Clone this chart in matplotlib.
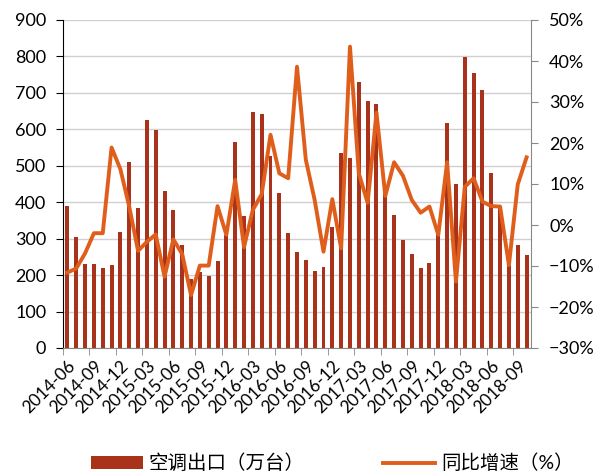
import matplotlib.pyplot as plt
import numpy as np
from matplotlib.ticker import PercentFormatter

plt.rcParams['font.family'] = ['Lato', 'Noto Sans CJK SC', 'DejaVu Sans']

# 月份：2014-06 至 2018-10
meses = []
anio, mes = 2014, 6
for _ in range(53):
    meses.append(f"{anio}-{mes:02d}")
    mes += 1
    if mes > 12:
        mes = 1
        anio += 1

# 空调出口（万台）
exportacion = [390, 305, 230, 231, 220, 228, 318, 510, 383, 626,
               597, 431, 379, 283, 190, 208, 198, 238, 310, 566,
               362, 648, 643, 526, 426, 316, 263, 242, 212, 223,
               332, 535, 521, 730, 678, 670, 425, 365, 295, 257,
               219, 233, 318, 617, 450, 798, 755, 708, 479, 390,
               228, 283, 254]

# 同比增速（%）
crecimiento = [-11.6, -10.6, -6.9, -2.0, -2.0, 18.9, 13.6, 4.5, -6.3, -4.1,
               -2.3, -12.6, -3.5, -7.1, -17.1, -9.9, -9.9, 4.6, -2.4, 11.0,
               -5.4, 3.7, 7.5, 22.0, 12.6, 11.4, 38.6, 15.9, 6.1, -6.5,
               6.3, -5.7, 43.5, 12.6, 5.4, 27.4, 7.1, 15.3, 12.0, 6.1,
               3.0, 4.5, -2.4, 15.3, -13.8, 9.3, 11.4, 5.7, 4.6, 4.5,
               -9.8, 9.9, 16.5]

color_barra = '#A8321A'
color_linea = '#E05E1C'

fig = plt.figure(figsize=(6.06, 4.74), dpi=100)
ax = fig.add_axes([63 / 606, 1 - 348 / 474, (531 - 63) / 606, (348 - 20) / 474])
x = np.arange(len(meses))

barras = ax.bar(x, exportacion, width=0.45, color=color_barra, zorder=2)
ax.set_ylim(0, 900)
ax.set_yticks(range(0, 901, 100))
ax.set_xlim(-0.5, len(meses) - 0.5)
ax.grid(axis='y', color='#D0D0D0', linewidth=1, zorder=0)
ax.set_axisbelow(True)

# Etiquetas cada 3 meses, marcas entre categorías
ax.set_xticks(x[::3])
ax.set_xticklabels([meses[i] for i in x[::3]], rotation=45, ha='right',
                   rotation_mode='anchor', fontsize=12.5)
ax.tick_params(axis='x', which='major', length=0, pad=7)
ax.set_xticks(np.arange(-0.5, len(meses) - 1, 3), minor=True)
ax.tick_params(axis='x', which='minor', length=5, color='#888888')
ax.tick_params(axis='y', labelsize=13, length=5, color='black', pad=7)

for lado in ['top', 'right']:
    ax.spines[lado].set_visible(False)
ax.spines['left'].set_color('black')
ax.spines['bottom'].set_color('#888888')

ax2 = ax.twinx()
linea, = ax2.plot(x, crecimiento, color=color_linea, linewidth=2.8, zorder=3,
                  solid_joinstyle='round')
ax2.set_ylim(-30, 50)
ax2.set_yticks(range(-30, 51, 10))
ax2.yaxis.set_major_formatter(PercentFormatter(decimals=0))
ax2.tick_params(axis='y', labelsize=13, length=5, color='#888888', pad=8)
for lado in ['top', 'left', 'bottom']:
    ax2.spines[lado].set_visible(False)
ax2.spines['right'].set_color('#888888')

fig.legend([barras, linea], ['空调出口（万台）', '同比增速（%）'],
           loc='center', bbox_to_anchor=(0.548, 1 - 463 / 474), ncol=2,
           frameon=False, fontsize=14, handlelength=2.7, columnspacing=4.0,
           handletextpad=0.3, borderpad=0)

fig.savefig('out.png', dpi=100)
